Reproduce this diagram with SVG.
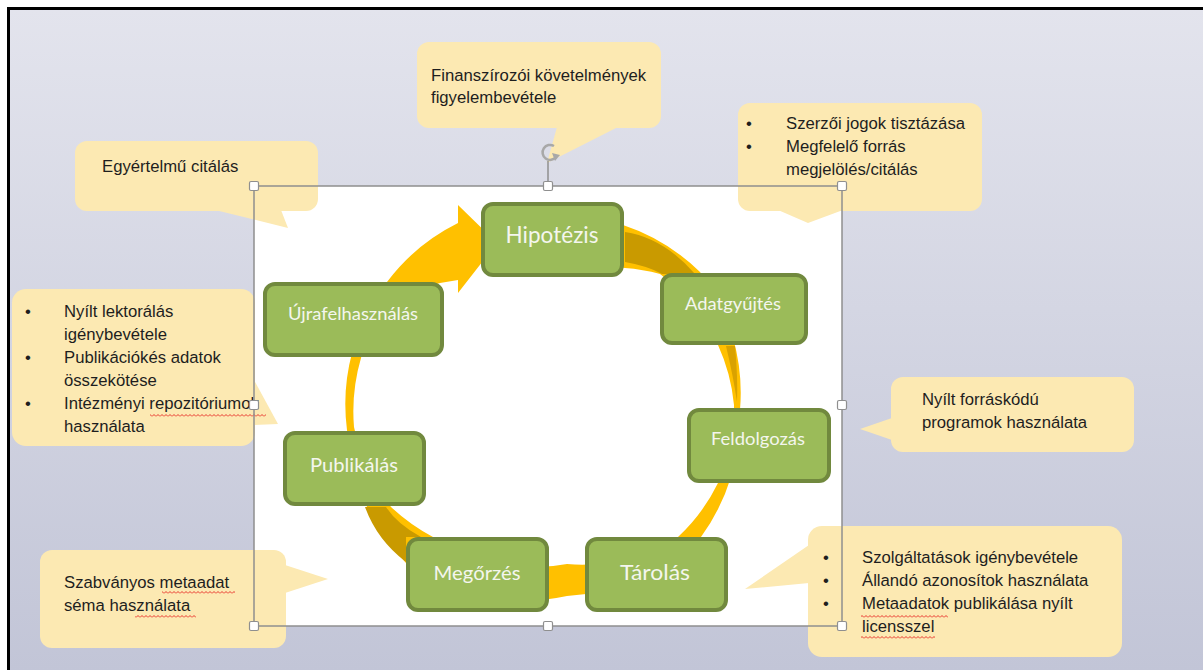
<svg xmlns="http://www.w3.org/2000/svg" width="1203" height="670" viewBox="0 0 1203 670">
<defs>
<linearGradient id="bg" x1="0" y1="0" x2="0" y2="1">
<stop offset="0" stop-color="#e3e4ed"/>
<stop offset="1" stop-color="#c2c5d7"/>
</linearGradient>
<pattern id="wave" x="0" y="0" width="4" height="3" patternUnits="userSpaceOnUse">
<path d="M0,2.5 L2,0.5 L4,2.5" fill="none" stroke="#e8342c" stroke-width="1"/>
</pattern>
<style>
.callout{fill:#fce9b2}
.ct{font-family:"Liberation Sans",Arial,sans-serif;font-size:16.7px;fill:#1e1e1e}
.box rect{fill:#9bbb59;stroke:#71893e;stroke-width:4}
.bt{font-family:Lato,"Open Sans",sans-serif;fill:#f4f6ee;text-anchor:middle}
.handle{fill:#ffffff;stroke:#8f8f8f;stroke-width:1.2}
.sq{fill:url(#wave)}
.ring{fill:#ffc000}
.dark{fill:#c99a00}
</style>
</defs>
<rect x="0" y="0" width="1203" height="670" fill="#ffffff"/>
<rect x="8.5" y="8.5" width="1195" height="662" fill="url(#bg)"/>
<path d="M7,8.5 H1203 M8.5,7 V670" stroke="#000000" stroke-width="3" fill="none"/>
<rect x="254" y="186" width="588" height="440" fill="#ffffff"/>

<g id="connectors">
<path class="ring" d="M560,213 A200,200 0 0 1 623,225 A200,200 0 0 1 700,272 A200,200 0 0 1 740,410 A205,205 0 0 1 701,537 A205,205 0 0 1 567,596 A205,205 0 0 1 406,563 A210,210 0 0 1 347,430 A200,200 0 0 1 387,282 A200,200 0 0 1 458,223 L458,205 L497,243 L458,293 L458,280 L440,283 Q375,300 361,358 A190,190 0 0 0 354,427 A195,195 0 0 0 391,507 A195,195 0 0 0 433,537 A180,180 0 0 0 567,564 A180,180 0 0 0 678,537 A185,185 0 0 0 718,483 A185,185 0 0 0 734,405 A185,185 0 0 0 718,345 A180,180 0 0 0 660,274 A180,180 0 0 0 625,268 L560,262 Z"/>
<path class="dark" d="M625,232 Q664,238 695,274 L662,274 Q648,266 625,262 Z"/>
<path fill="#d9a200" d="M726,346 L735,346 Q738,378 737,402 Q733,375 726,346 Z"/>
<path class="dark" d="M365,507 Q377,540 406,562 L406,537 L421,537 Q397,524 386,507 Z"/>
</g>

<g id="node-hipotezis" class="box"><rect x="483" y="204" width="139" height="71" rx="10"/><text class="bt" x="552" y="243" font-size="22.5" textLength="93" lengthAdjust="spacingAndGlyphs">Hipotézis</text></g>
<g id="node-adatgyujtes" class="box"><rect x="662" y="275" width="144" height="68" rx="10"/><text class="bt" x="733" y="310" font-size="18" textLength="96" lengthAdjust="spacingAndGlyphs">Adatgyűjtés</text></g>
<g id="node-feldolgozas" class="box"><rect x="689" y="410" width="140" height="71" rx="10"/><text class="bt" x="758" y="445" font-size="18" textLength="94" lengthAdjust="spacingAndGlyphs">Feldolgozás</text></g>
<g id="node-tarolas" class="box"><rect x="587" y="539" width="139" height="71" rx="10"/><text class="bt" x="655" y="580" font-size="22" textLength="70" lengthAdjust="spacingAndGlyphs">Tárolás</text></g>
<g id="node-megorzes" class="box"><rect x="408" y="539" width="139" height="71" rx="10"/><text class="bt" x="477" y="580" font-size="20" textLength="87" lengthAdjust="spacingAndGlyphs">Megőrzés</text></g>
<g id="node-publikalas" class="box"><rect x="285" y="433" width="139" height="71" rx="10"/><text class="bt" x="354" y="472" font-size="20" textLength="88" lengthAdjust="spacingAndGlyphs">Publikálás</text></g>
<g id="node-ujrafelhasznalas" class="box"><rect x="265" y="284" width="177" height="71" rx="10"/><text class="bt" x="353" y="320" font-size="18" textLength="130" lengthAdjust="spacingAndGlyphs">Újrafelhasználás</text></g>

<g id="callout-citalas">
<rect class="callout" x="75" y="141" width="243" height="70" rx="12"/>
<polygon class="callout" points="215,210 288,228 281,210"/>
<text class="ct" x="102" y="172">Egyértelmű citálás</text>
</g>
<g id="callout-finanszirozoi">
<rect class="callout" x="417" y="42" width="244" height="86" rx="12"/>
<polygon class="callout" points="557,127 547,163 618,127"/>
<text class="ct" x="431" y="81">Finanszírozói követelmények</text>
<text class="ct" x="431" y="103">figyelembevétele</text>
</g>
<g id="callout-szerzoi">
<rect class="callout" x="738" y="103" width="244" height="108" rx="12"/>
<polygon class="callout" points="778,210 808,223 843,210"/>
<text class="ct" x="746" y="129">•</text>
<text class="ct" x="786" y="129">Szerzői jogok tisztázása</text>
<text class="ct" x="746" y="152">•</text>
<text class="ct" x="786" y="152">Megfelelő forrás</text>
<text class="ct" x="786" y="175">megjelölés/citálás</text>
</g>
<g id="callout-lektoralas">
<rect class="callout" x="12" y="289" width="243" height="157" rx="14"/>
<polygon class="callout" points="254,380 278,424 254,425"/>
<text class="ct" x="25" y="317">•</text>
<text class="ct" x="64" y="317">Nyílt lektorálás</text>
<text class="ct" x="64" y="340">igénybevétele</text>
<text class="ct" x="25" y="363">•</text>
<text class="ct" x="64" y="363">Publikációkés adatok</text>
<text class="ct" x="64" y="386">összekötése</text>
<text class="ct" x="25" y="409">•</text>
<text class="ct" x="64" y="409">Intézményi repozitóriumok</text>
<text class="ct" x="64" y="432">használata</text>
</g>
<g id="callout-nyiltforras">
<rect class="callout" x="891" y="377" width="243" height="75" rx="12"/>
<polygon class="callout" points="892,418 860,429 892,440"/>
<text class="ct" x="922" y="405">Nyílt forráskódú</text>
<text class="ct" x="922" y="428">programok használata</text>
</g>
<g id="callout-metaadat">
<rect class="callout" x="40" y="550" width="246" height="98" rx="12"/>
<polygon class="callout" points="285,565 328,579 285,593"/>
<text class="ct" x="64" y="588">Szabványos metaadat</text>
<text class="ct" x="64" y="611">séma használata</text>
</g>
<g id="callout-szolgaltatasok">
<rect class="callout" x="808" y="526" width="314" height="131" rx="14"/>
<polygon class="callout" points="809,545 745,589 809,583"/>
<text class="ct" x="823" y="563">•</text>
<text class="ct" x="862" y="563">Szolgáltatások igénybevétele</text>
<text class="ct" x="823" y="586">•</text>
<text class="ct" x="862" y="586">Állandó azonosítok használata</text>
<text class="ct" x="823" y="609">•</text>
<text class="ct" x="862" y="609">Metaadatok publikálása nyílt</text>
<text class="ct" x="862" y="632">licensszel</text>
</g>

<g id="spellcheck">
<rect class="sq" x="150" y="414" width="116" height="3"/>
<rect class="sq" x="162" y="591" width="73" height="3"/>
<rect class="sq" x="135" y="615" width="61" height="3"/>
<rect class="sq" x="861" y="615" width="87" height="3"/>
<rect class="sq" x="861" y="636" width="74" height="3"/>
</g>

<g id="selection">
<rect x="254" y="186" width="588" height="440" fill="none" stroke="#8f8f8f" stroke-width="1.5"/>
<line x1="548" y1="161" x2="548" y2="186" stroke="#8f8f8f" stroke-width="1.5"/>
<path d="M554,146 A7.5,7.5 0 1 0 556,157" fill="none" stroke="#a8a8a8" stroke-width="2.5"/>
<polygon points="552,153 560,155 555,161" fill="#a8a8a8"/>
<rect class="handle" x="249.5" y="181.5" width="9" height="9" rx="1.5"/>
<rect class="handle" x="543.5" y="181.5" width="9" height="9" rx="1.5"/>
<rect class="handle" x="837.5" y="181.5" width="9" height="9" rx="1.5"/>
<rect class="handle" x="249.5" y="400.5" width="9" height="9" rx="1.5"/>
<rect class="handle" x="837.5" y="400.5" width="9" height="9" rx="1.5"/>
<rect class="handle" x="249.5" y="621.5" width="9" height="9" rx="1.5"/>
<rect class="handle" x="543.5" y="621.5" width="9" height="9" rx="1.5"/>
<rect class="handle" x="837.5" y="621.5" width="9" height="9" rx="1.5"/>
</g>
</svg>
